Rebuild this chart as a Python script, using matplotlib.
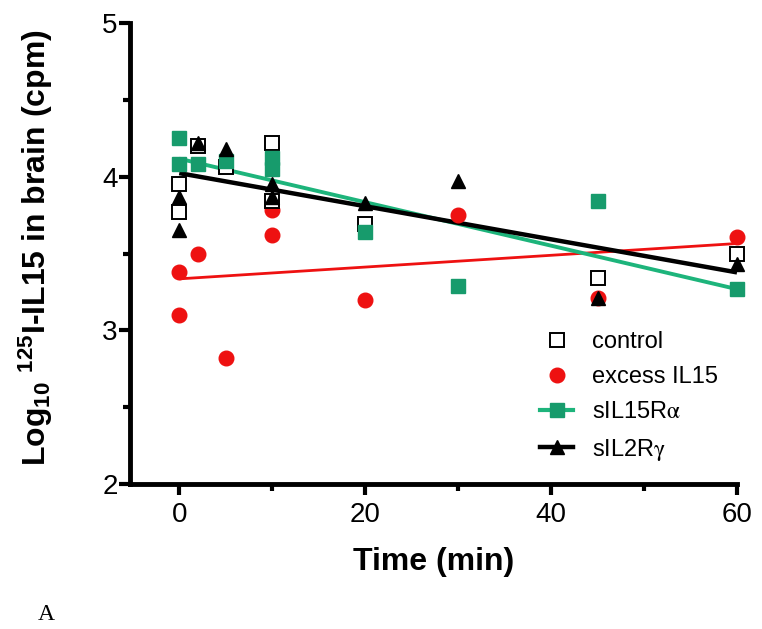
import matplotlib
matplotlib.use("Agg")
import matplotlib.pyplot as plt
from matplotlib.lines import Line2D

plt.rcParams['font.family'] = ['Liberation Sans', 'DejaVu Sans']
plt.rcParams['mathtext.fontset'] = 'custom'
plt.rcParams['mathtext.rm'] = 'Liberation Sans:bold'
plt.rcParams['mathtext.bf'] = 'Liberation Sans:bold'
plt.rcParams['mathtext.it'] = 'Liberation Sans:bold'

# ---- data ----
control_t = [0, 0, 2, 5, 10, 10, 20, 45, 60]
control_y = [3.95, 3.77, 4.20, 4.06, 4.22, 3.84, 3.69, 3.34, 3.50]

excess_t = [0, 0, 2, 5, 10, 10, 20, 30, 45, 60]
excess_y = [3.38, 3.10, 3.50, 2.82, 3.78, 3.62, 3.20, 3.75, 3.21, 3.61]

rA_t = [0, 0, 2, 5, 10, 10, 20, 30, 45, 60]
rA_y = [4.25, 4.08, 4.08, 4.10, 4.12, 4.05, 3.64, 3.29, 3.84, 3.27]

rG_t = [0, 0, 2, 5, 10, 10, 20, 30, 45, 60]
rG_y = [3.87, 3.65, 4.22, 4.18, 3.95, 3.87, 3.83, 3.97, 3.21, 3.43]

# regression lines (value at t=0, value at t=60)
fit_t = [0, 60]
excess_fit = [3.335, 3.565]
rA_fit = [4.117, 3.268]
rG_fit = [4.023, 3.377]

labels = ['control', 'excess IL15', r'sIL15R$\mathrm{\alpha}$', r'sIL2R$\mathrm{\gamma}$']
x_ticks = [0, 20, 40, 60]
y_ticks = [2, 3, 4, 5]

RED = '#EE1111'
GREEN_M = '#179B6C'
GREEN_L = '#1DB47B'

W, H = 762, 629
fig = plt.figure(figsize=(W / 100, H / 100), dpi=100)
ax = fig.add_axes([130 / W, 1 - 484 / H, (737 - 130) / W, (484 - 23) / H])

ms = 10.5
ax.plot(fit_t, excess_fit, color=RED, lw=2.0, zorder=3, solid_capstyle='butt')
ax.plot(fit_t, rA_fit, color=GREEN_L, lw=2.8, zorder=3, solid_capstyle='butt')
ax.plot(fit_t, rG_fit, color='black', lw=3.2, zorder=4, solid_capstyle='butt')

ax.plot(excess_t, excess_y, 'o', color=RED, ms=ms, mec=RED, zorder=5, clip_on=False)
ax.plot(control_t, control_y, 's', mfc='white', mec='black', mew=1.4, ms=ms, zorder=6, clip_on=False)
ax.plot(rA_t, rA_y, 's', color=GREEN_M, ms=ms, zorder=7, clip_on=False)
ax.plot(rG_t, rG_y, '^', color='black', ms=ms, zorder=8, clip_on=False)

ax.set_xlim(-5.3, 60)
ax.set_ylim(2, 5)
for s in ['top', 'right']:
    ax.spines[s].set_visible(False)
for s in ['left', 'bottom']:
    ax.spines[s].set_linewidth(3.5)

ax.set_xticks(x_ticks)
ax.set_xticks([10, 30, 50], minor=True)
ax.set_yticks(y_ticks)
ax.set_yticks([2.5, 3.5, 4.5], minor=True)
ax.tick_params(which='major', length=8, width=3, labelsize=20, pad=5)
ax.tick_params(which='minor', length=5, width=3)
ax.tick_params(axis='y', which='major', pad=1)

fig.text(434 / W, 1 - 562 / H, 'Time (min)', fontsize=23, fontweight='bold',
         ha='center', va='center')
fig.text(36 / W, 1 - 248 / H, r'Log$_{\mathbf{10}}$ $^{\mathbf{125}}$I-IL15 in brain (cpm)',
         fontsize=23, fontweight='bold', rotation=90, ha='center', va='center')

handles = [
    Line2D([], [], ls='none', marker='s', mfc='white', mec='black', mew=1.4, ms=ms),
    Line2D([], [], ls='none', marker='o', color=RED, ms=ms),
    Line2D([], [], color=GREEN_L, lw=3, marker='s', mfc=GREEN_M, mec=GREEN_M, ms=ms),
    Line2D([], [], color='black', lw=3.2, marker='^', ms=ms),
]
leg = fig.legend(handles, labels, loc='upper left',
                 bbox_to_anchor=(540 / W, 1 - 331 / H), bbox_transform=fig.transFigure,
                 frameon=False, handlelength=1.4, handletextpad=0.8,
                 labelspacing=0.56, borderpad=0, borderaxespad=0,
                 prop={'size': 17, 'math_fontfamily': 'stix'})

fig.text(46 / W, 1 - 615 / H, 'A', fontsize=17, family='Liberation Serif',
         ha='center', va='center')

fig.savefig('out.png', dpi=100)
